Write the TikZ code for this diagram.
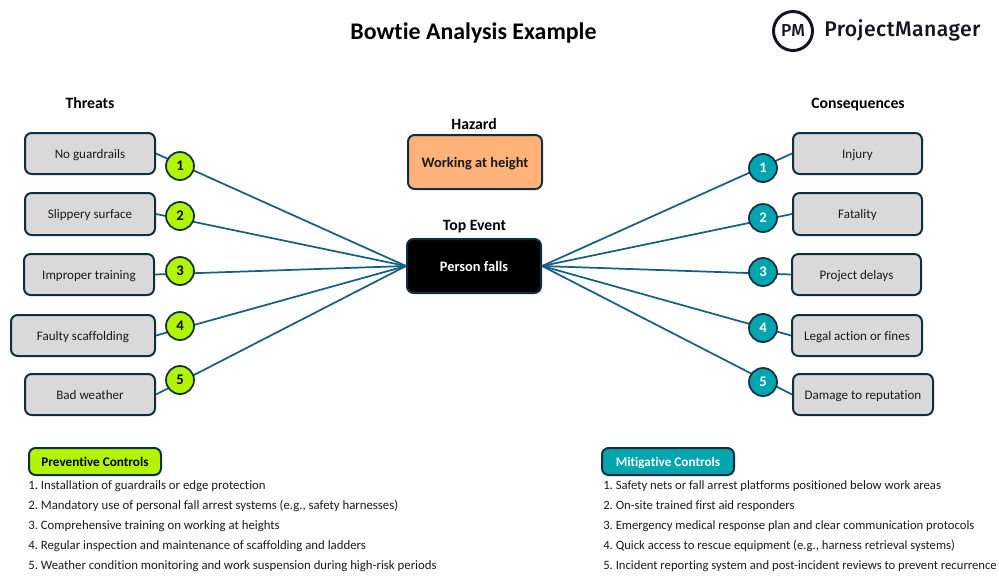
\documentclass[tikz,border=0pt]{standalone}
\usepackage{fontspec}
\setmainfont{Carlito}[Ligatures={NoCommon}]
\newfontfamily\logofont{Fira Sans}[BoldFont={Fira Sans Medium},LetterSpace=2]
\definecolor{edgeC}{HTML}{0F2F40}
\definecolor{lineC}{HTML}{156082}
\definecolor{grayC}{HTML}{D9D9D9}
\definecolor{limeC}{HTML}{B2F500}
\definecolor{tealC}{HTML}{00A5AF}
\definecolor{orangeC}{HTML}{FFB27A}
\definecolor{inkC}{HTML}{1A1A1A}
\definecolor{logoC}{HTML}{14141E}
\tikzset{
  x=0.75pt,y=-0.75pt,
  even/.style={text height=1em,text depth=0.16em},
  evensmall/.style={text height=0.85em,text depth=0.16em},
  boxbase/.style={draw=edgeC,line width=1.5pt,rounded corners=5pt,inner sep=0pt,align=center},
  graybox/.style={boxbase,fill=grayC,text=inkC,font=\fontsize{9.8}{11}\selectfont,evensmall},
  bigbox/.style={boxbase,font=\fontsize{10.8}{12}\selectfont\bfseries,even},
  ctlbox/.style={boxbase,font=\fontsize{9.9}{11}\selectfont\bfseries,text=black,evensmall},
  numdot/.style={circle,draw=edgeC,line width=1.3pt,minimum size=28*0.75pt,inner sep=0pt,font=\fontsize{11}{12}\selectfont\bfseries,text=black},
  conn/.style={draw=lineC,line width=1.3pt},
  head/.style={inner sep=0pt,font=\fontsize{11.8}{13}\selectfont\bfseries,text=black,even},
  listline/.style={inner sep=0pt,anchor=west,font=\fontsize{9.6}{11}\selectfont,text=inkC,evensmall},
  listlineb/.style={listline,font=\fontsize{9.5}{11}\selectfont},
}
\begin{document}
\begin{tikzpicture}
\useasboundingbox (0,0) rectangle (999,583);
\node[inner sep=0pt,font=\fontsize{17.9}{20}\selectfont\bfseries,even] (title) at (473.5,34) {Bowtie Analysis Example};
% logo
\node[circle,draw=logoC,line width=2.2pt,minimum size=39*0.75pt,inner sep=0pt,font=\logofont\fontsize{13}{15}\selectfont\bfseries,text=logoC] (logo) at (793,31) {PM};
\node[anchor=west,inner sep=0pt,font=\logofont\fontsize{15.9}{18}\selectfont\bfseries,text=logoC] (brand) at (824,30) {ProjectManager};
% headers
\node[head] (hthreat) at (90,103) {Threats};
\node[head] (hcons) at (858,103) {Consequences};
\node[head] (hhaz) at (474,124) {Hazard};
\node[head] (htop) at (474.5,225) {Top Event};
% centre
\node[bigbox,fill=orangeC,text=inkC,minimum width=134*0.75pt,minimum height=54*0.75pt] (haz) at (475,162) {Working at height};
\node[bigbox,fill=black,text=white,minimum width=134*0.75pt,minimum height=54*0.75pt] (top) at (474,266) {Person falls};
% threats
\node[graybox,minimum width=130*0.75pt,minimum height=41*0.75pt] (t1) at (90,153.5) {No guardrails};
\node[graybox,minimum width=130*0.75pt,minimum height=42*0.75pt] (t2) at (90,214) {Slippery surface};
\node[graybox,minimum width=130*0.75pt,minimum height=41*0.75pt] (t3) at (89,274.5) {Improper training};
\node[graybox,minimum width=144*0.75pt,minimum height=41*0.75pt] (t4) at (83,335.5) {Faulty scaffolding};
\node[graybox,minimum width=130*0.75pt,minimum height=41*0.75pt] (t5) at (90,394.5) {Bad weather};
% consequences
\node[graybox,minimum width=129*0.75pt,minimum height=41*0.75pt] (c1) at (857.5,153.5) {Injury};
\node[graybox,minimum width=129*0.75pt,minimum height=42*0.75pt] (c2) at (857.5,214) {Fatality};
\node[graybox,minimum width=129*0.75pt,minimum height=41*0.75pt] (c3) at (856.5,274.5) {Project delays};
\node[graybox,minimum width=130*0.75pt,minimum height=41*0.75pt] (c4) at (857,335.5) {Legal action or fines};
\node[graybox,minimum width=140*0.75pt,minimum height=41*0.75pt] (c5) at (863,394.5) {Damage to reputation};
% connectors
\foreach \n in {t1,t2,t3,t4,t5} \draw[conn] (\n.east) -- (top.west);
\foreach \n in {c1,c2,c3,c4,c5} \draw[conn] (\n.west) -- (top.east);
% number dots
\node[numdot,fill=limeC] (a1) at (180,166) {1};
\node[numdot,fill=limeC] (a2) at (180,216) {2};
\node[numdot,fill=limeC] (a3) at (180,271) {3};
\node[numdot,fill=limeC] (a4) at (180,326) {4};
\node[numdot,fill=limeC] (a5) at (180,380) {5};
\node[numdot,fill=tealC,text=white] (b1) at (763,168) {1};
\node[numdot,fill=tealC,text=white] (b2) at (763,218) {2};
\node[numdot,fill=tealC,text=white] (b3) at (763,272) {3};
\node[numdot,fill=tealC,text=white] (b4) at (763,328) {4};
\node[numdot,fill=tealC,text=white] (b5) at (763,382) {5};
% controls
\node[ctlbox,fill=limeC,minimum width=132*0.75pt,minimum height=27*0.75pt] (pc) at (95,461.5) {Preventive Controls};
\node[ctlbox,fill=tealC,text=white,minimum width=132*0.75pt,minimum height=27*0.75pt] (mc) at (668,461.5) {Mitigative Controls};
\node[listline] (p1) at (28,484.5) {1.~Installation of guardrails or edge protection};
\node[listline] (p2) at (28,504.5) {2.~Mandatory use of personal fall arrest systems (e.g., safety harnesses)};
\node[listline] (p3) at (28,524.5) {3.~Comprehensive training on working at heights};
\node[listline] (p4) at (28,544.5) {4.~Regular inspection and maintenance of scaffolding and ladders};
\node[listline] (p5) at (28,564.5) {5.~Weather condition monitoring and work suspension during high-risk periods};
\node[listlineb] (m1) at (603,484.5) {1.~Safety nets or fall arrest platforms positioned below work areas};
\node[listlineb] (m2) at (603,504.5) {2.~On-site trained first aid responders};
\node[listlineb] (m3) at (603,524.5) {3.~Emergency medical response plan and clear communication protocols};
\node[listlineb] (m4) at (603,544.5) {4.~Quick access to rescue equipment (e.g., harness retrieval systems)};
\node[listlineb] (m5) at (603,564.5) {5.~Incident reporting system and post-incident reviews to prevent recurrence};
\end{tikzpicture}
\end{document}
